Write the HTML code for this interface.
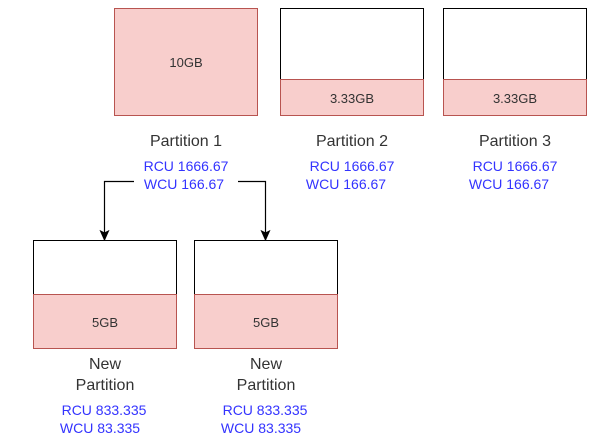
<!DOCTYPE html>
<html><head><meta charset="utf-8"><style>html,body{margin:0;padding:0;background:#fff;}svg{display:block}</style></head>
<body>
<svg width="602" height="444" viewBox="0 0 602 444" xmlns="http://www.w3.org/2000/svg" font-family="Liberation Sans, sans-serif">
<!-- Box 1 -->
<rect x="114.5" y="8.5" width="143" height="107" fill="#f8cecc" stroke="#b85450"/>
<text x="186" y="67" font-size="13" text-anchor="middle" fill="#333">10GB</text>
<!-- Box 2 -->
<rect x="280.5" y="8.5" width="143" height="71" fill="#fff" stroke="#000"/>
<rect x="280.5" y="79.5" width="143" height="36" fill="#f8cecc" stroke="#b85450"/>
<text x="352" y="103" font-size="13" text-anchor="middle" fill="#333">3.33GB</text>
<!-- Box 3 -->
<rect x="443.5" y="8.5" width="143" height="71" fill="#fff" stroke="#000"/>
<rect x="443.5" y="79.5" width="143" height="36" fill="#f8cecc" stroke="#b85450"/>
<text x="515" y="103" font-size="13" text-anchor="middle" fill="#333">3.33GB</text>
<g font-size="16" fill="#333" text-anchor="middle">
<text x="186" y="146">Partition 1</text>
<text x="352" y="146">Partition 2</text>
<text x="515" y="146">Partition 3</text>
</g>
<g font-size="14" fill="#3333ff" text-anchor="middle">
<text x="186" y="171">RCU 1666.67</text><text x="184" y="189">WCU 166.67</text>
<text x="352" y="171">RCU 1666.67</text><text x="346" y="189">WCU 166.67</text>
<text x="515" y="171">RCU 1666.67</text><text x="509" y="189">WCU 166.67</text>
</g>
<!-- arrows -->
<path d="M134,181.5 H104.5 V233" fill="none" stroke="#000" stroke-width="1.2"/>
<path d="M100.5,231 L104.5,240 L108.5,231 L104.5,233 Z" fill="#000" stroke="#000"/>
<path d="M238,181.5 H265.5 V233" fill="none" stroke="#000" stroke-width="1.2"/>
<path d="M261.5,231 L265.5,240 L269.5,231 L265.5,233 Z" fill="#000" stroke="#000"/>
<!-- bottom boxes -->
<rect x="33.5" y="240.5" width="143" height="54" fill="#fff" stroke="#000"/>
<rect x="33.5" y="294.5" width="143" height="54" fill="#f8cecc" stroke="#b85450"/>
<text x="105" y="327" font-size="13" text-anchor="middle" fill="#333">5GB</text>
<rect x="194.5" y="240.5" width="143" height="54" fill="#fff" stroke="#000"/>
<rect x="194.5" y="294.5" width="143" height="54" fill="#f8cecc" stroke="#b85450"/>
<text x="266" y="327" font-size="13" text-anchor="middle" fill="#333">5GB</text>
<g font-size="16" fill="#333" text-anchor="middle">
<text x="105" y="369">New</text><text x="105" y="390">Partition</text>
<text x="266" y="369">New</text><text x="266" y="390">Partition</text>
</g>
<g font-size="14" fill="#3333ff" text-anchor="middle">
<text x="104" y="415">RCU 833.335</text><text x="100" y="433">WCU 83.335</text>
<text x="265" y="415">RCU 833.335</text><text x="261" y="433">WCU 83.335</text>
</g>
</svg>
</body></html>
